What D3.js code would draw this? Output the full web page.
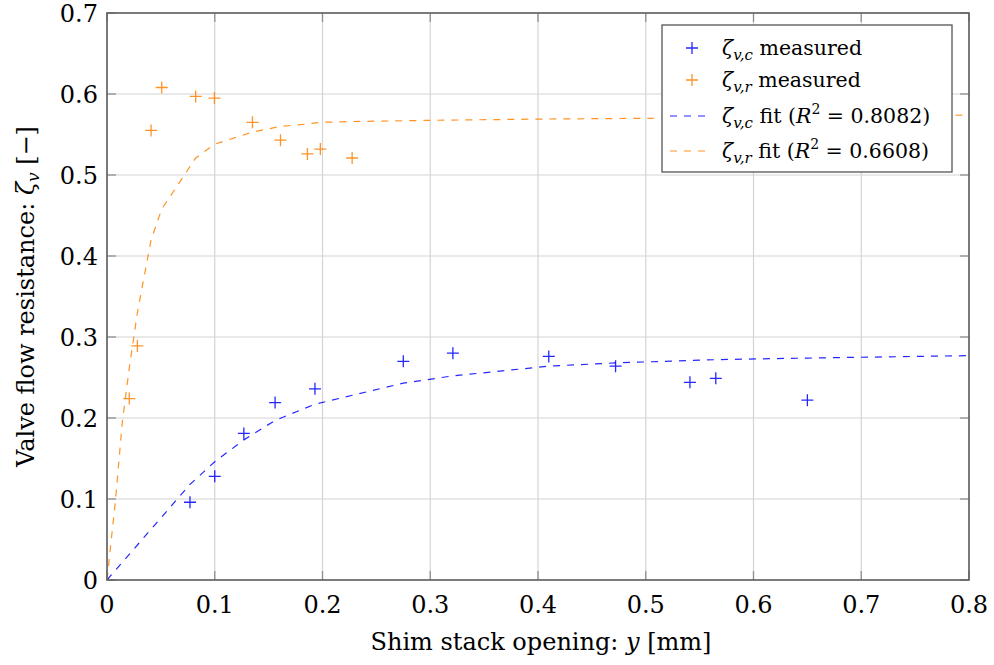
<!DOCTYPE html>
<html><head><meta charset="utf-8">
<script src="https://cdn.jsdelivr.net/npm/d3@7"></script>
<style>body{margin:0;background:#fff}svg{display:block}</style>
</head><body><svg id="c" width="994" height="665"></svg>
<script>
// ---- data ----
const xTicks = [0,0.1,0.2,0.3,0.4,0.5,0.6,0.7,0.8];
const yTicks = [0,0.1,0.2,0.3,0.4,0.5,0.6,0.7];
const cMeasX = [0.077,0.100,0.127,0.156,0.193,0.275,0.321,0.410,0.472,0.541,0.565,0.650];
const cMeasY = [0.096,0.128,0.181,0.219,0.236,0.270,0.280,0.276,0.264,0.244,0.249,0.222];
const rMeasX = [0.0207,0.0282,0.0409,0.0508,0.0823,0.0997,0.135,0.161,0.186,0.198,0.2275];
const rMeasY = [0.224,0.289,0.555,0.608,0.597,0.595,0.565,0.543,0.526,0.532,0.521];
const cFitX = [0,0.077,0.100,0.127,0.156,0.193,0.275,0.321,0.410,0.472,0.541,0.565,0.650,0.8];
const cFitY = [0,0.118,0.146,0.173,0.197,0.217,0.243,0.252,0.264,0.268,0.271,0.272,0.274,0.277];
const rFitX = [0,0.008,0.0142,0.0207,0.0282,0.0409,0.0508,0.0823,0.0997,0.135,0.161,0.186,0.198,0.2275,0.3,0.4,0.5,0.6,0.7,0.8];
const rFitY = [0,0.10,0.195,0.262,0.33,0.42,0.458,0.521,0.538,0.553,0.560,0.563,0.565,0.566,0.5675,0.569,0.570,0.571,0.572,0.574];
const seriesNames = ["measured","measured","fit (","fit ("];
const r2 = ["0.8082","0.6608"];

const FONT = "DejaVu Serif";
const blue = "#0000ff", orange = "#ff8000";
const svg = d3.select("#c").style("font-family", FONT);
const L=107, R=969, T=13, B=580;
const x = d3.scaleLinear().domain([0,0.8]).range([L,R]);
const y = d3.scaleLinear().domain([0,0.7]).range([B,T]);

// grid
const g = svg.append("g");
g.selectAll(".gx").data(xTicks).join("line").attr("x1",d=>x(d)).attr("x2",d=>x(d)).attr("y1",T).attr("y2",B).attr("stroke","#d4d4d4").attr("stroke-width",1.2);
g.selectAll(".gy").data(yTicks).join("line").attr("y1",d=>y(d)).attr("y2",d=>y(d)).attr("x1",L).attr("x2",R).attr("stroke","#d4d4d4").attr("stroke-width",1.2);

// ticks inside
const tk = 9;
g.selectAll(".tx").data(xTicks).join("line").attr("x1",d=>x(d)).attr("x2",d=>x(d)).attr("y1",B).attr("y2",B-tk).attr("stroke","#909090").attr("stroke-width",1.3);
g.selectAll(".tx2").data(xTicks).join("line").attr("x1",d=>x(d)).attr("x2",d=>x(d)).attr("y1",T).attr("y2",T+tk).attr("stroke","#909090").attr("stroke-width",1.3);
g.selectAll(".ty").data(yTicks).join("line").attr("y1",d=>y(d)).attr("y2",d=>y(d)).attr("x1",L).attr("x2",L+tk).attr("stroke","#909090").attr("stroke-width",1.3);
g.selectAll(".ty2").data(yTicks).join("line").attr("y1",d=>y(d)).attr("y2",d=>y(d)).attr("x1",R).attr("x2",R-tk).attr("stroke","#909090").attr("stroke-width",1.3);

// tick labels
const fmt = d => d===0 ? "0" : d3.format(".1f")(d);
svg.selectAll(".xl").data(xTicks).join("text").attr("x",d=>x(d)).attr("y",B+33).attr("text-anchor","middle").style("font-size","24px").text(fmt);
svg.selectAll(".yl").data(yTicks).join("text").attr("x",L-9).attr("y",d=>y(d)+9).attr("text-anchor","end").style("font-size","24px").text(fmt);

// fits
const line = d3.line().x(d=>x(d[0])).y(d=>y(d[1]));
svg.append("clipPath").attr("id","cp").append("rect").attr("x",L).attr("y",T).attr("width",R-L).attr("height",B-T);
const pg = svg.append("g").attr("clip-path","url(#cp)");
pg.append("path").datum(cFitX.map((v,i)=>[v,cFitY[i]])).attr("d",line).attr("fill","none").attr("stroke",blue).attr("stroke-width",1.2).attr("stroke-dasharray","7,7").attr("stroke-opacity",0.85);
pg.append("path").datum(rFitX.map((v,i)=>[v,rFitY[i]])).attr("d",line).attr("fill","none").attr("stroke",orange).attr("stroke-width",1.2).attr("stroke-dasharray","7,7").attr("stroke-opacity",0.85);

// markers
function plus(sel, xs, ys, col){
  const pts = xs.map((v,i)=>[v,ys[i]]);
  const s=6;
  sel.selectAll(null).data(pts).join("path")
    .attr("d",d=>`M${x(d[0])-s},${y(d[1])}h${2*s}M${x(d[0])},${y(d[1])-s}v${2*s}`)
    .attr("stroke",col).attr("stroke-width",1.3).attr("fill","none").attr("stroke-opacity",0.85);
}
plus(pg, cMeasX, cMeasY, blue);
plus(pg, rMeasX, rMeasY, orange);

// frame
svg.append("rect").attr("x",L).attr("y",T).attr("width",R-L).attr("height",B-T).attr("fill","none").attr("stroke","#606060").attr("stroke-width",1.6);

// axis labels
const xl = svg.append("text").attr("x",(L+R)/2 + 3).attr("y",650).attr("text-anchor","middle").style("font-size","24px");
xl.append("tspan").text("Shim stack opening: ");
xl.append("tspan").style("font-style","italic").text("y");
xl.append("tspan").text(" [mm]");
const yl = svg.append("text").attr("transform",`translate(34,${(T+B)/2}) rotate(-90)`).attr("text-anchor","middle").style("font-size","24px");
yl.append("tspan").text("Valve flow resistance: ");
yl.append("tspan").style("font-style","italic").text("ζ");
yl.append("tspan").style("font-style","italic").style("font-size","17px").attr("dy",5).text("v");
yl.append("tspan").attr("dy",-5).text(" [−]");

// legend
const lg = svg.append("g");
lg.append("rect").attr("x",662).attr("y",25).attr("width",290).attr("height",147).attr("fill","#fff").attr("stroke","#555").attr("stroke-width",1.3);
const rows = [48,80,116,151];
const subs = ["v,c","v,r","v,c","v,r"];
const cols = [blue,orange,blue,orange];
rows.forEach((ry,i)=>{
  if(i<2){
    lg.append("path").attr("d",`M${692-6},${ry}h12M692,${ry-6}v12`).attr("stroke",cols[i]).attr("stroke-width",1.3).attr("stroke-opacity",0.85);
  } else {
    lg.append("line").attr("x1",670).attr("x2",711).attr("y1",ry).attr("y2",ry).attr("stroke",cols[i]).attr("stroke-width",1.2).attr("stroke-dasharray","7,7").attr("stroke-opacity",0.85);
  }
  const t = lg.append("text").attr("x",722).attr("y",ry+7).style("font-size","20.5px");
  t.append("tspan").style("font-style","italic").text("ζ");
  t.append("tspan").style("font-style","italic").style("font-size","15px").attr("dy",5).text(subs[i]);
  t.append("tspan").attr("dy",-5).text(" " + seriesNames[i]);
  if(i>=2){
    t.append("tspan").style("font-style","italic").text("R");
    t.append("tspan").style("font-size","14px").attr("dy",-9).text("2");
    t.append("tspan").attr("dy",9).text(" = " + r2[i-2] + ")");
  }
});
</script></body></html>
